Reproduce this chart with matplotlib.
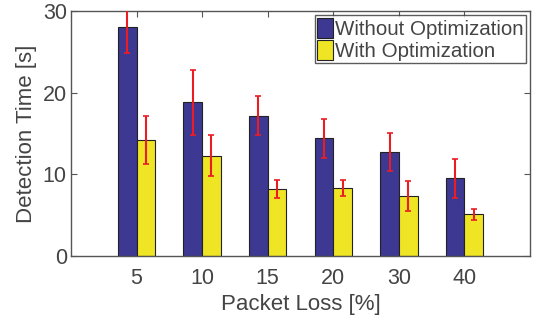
import matplotlib
matplotlib.use("Agg")
import matplotlib.pyplot as plt
import numpy as np

plt.rcParams["font.family"] = ["Liberation Sans", "DejaVu Sans"]

loss_labels = ["5", "10", "15", "20", "30", "40"]
without_opt = [28.0, 18.8, 17.2, 14.4, 12.7, 9.5]
without_err = [3.1, 4.0, 2.4, 2.4, 2.35, 2.35]
with_opt = [14.2, 12.3, 8.2, 8.3, 7.3, 5.1]
with_err = [2.9, 2.5, 1.1, 1.0, 1.85, 0.7]

BLUE = "#3d3892"
YELLOW = "#efe524"
RED = "#ec1c24"
TEXT = "#444444"
W = 0.285

fig = plt.figure(figsize=(5.36, 3.24), dpi=100)
ax = fig.add_axes([71 / 536, 1 - 256 / 324, 459 / 536, 245 / 324])

x = np.arange(1, len(loss_labels) + 1)
ax.bar(x - W / 2, without_opt, W, color=BLUE, edgecolor="#222222",
       linewidth=0.8, label="Without Optimization", zorder=2)
ax.bar(x + W / 2, with_opt, W, color=YELLOW, edgecolor="#222222",
       linewidth=0.8, label="With Optimization", zorder=2)
ax.errorbar(x - W / 2, without_opt, yerr=without_err, fmt="none",
            ecolor=RED, elinewidth=1.5, capsize=2, capthick=1.2, zorder=3)
ax.errorbar(x + W / 2, with_opt, yerr=with_err, fmt="none",
            ecolor=RED, elinewidth=1.5, capsize=2, capthick=1.2, zorder=3)

ax.set_xlim(0, 7)
ax.set_ylim(0, 30)
ax.set_xticks(x)
ax.set_xticklabels(loss_labels)
ax.set_yticks([0, 10, 20, 30])
ax.tick_params(direction="in", top=True, right=True, length=4,
               width=0.8, colors="#555555", labelcolor=TEXT, labelsize=15.5,
               pad=3)
ax.tick_params(axis="x", pad=9)
for spine in ax.spines.values():
    spine.set_color("#555555")
    spine.set_linewidth(1.0)
ax.set_xlabel("Packet Loss [%]", fontsize=16, color=TEXT, labelpad=3)
ax.set_ylabel("Detection Time [s]", fontsize=16, color=TEXT, labelpad=4)

leg = ax.legend(loc="upper right", fontsize=14.8, frameon=True, fancybox=False,
                handlelength=0.75, handleheight=1.15, handletextpad=0.1,
                borderpad=0.12, labelspacing=0.05, borderaxespad=0.2,
                labelcolor=TEXT)
leg.get_frame().set_edgecolor("#333333")
leg.get_frame().set_linewidth(1.0)

fig.savefig("out.png", dpi=100)
